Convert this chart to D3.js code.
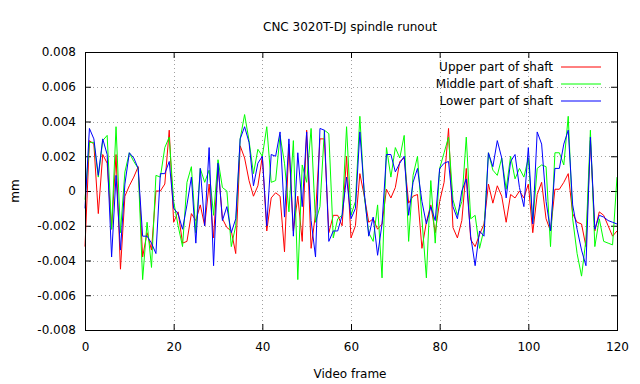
<!DOCTYPE html>
<html>
<head>
<meta charset="utf-8">
<script src="https://cdn.jsdelivr.net/npm/d3@7"></script>
<style>
  body { margin: 0; background: #fff; }
  svg { font-family: "DejaVu Sans", sans-serif; }
</style>
</head>
<body>
<script>
// frames 0..120, values in mm
var upper = [-0.0032, 0.0029, 0.0027, -0.0013, 0.0021, 0.0016, -0.0022, 0.0021, -0.0045, -0.0003,
  0.0003, 0.0008, 0.0014, -0.0038, -0.0024, -0.0034, 0.0000, 0.0000, 0.0004, 0.0035,
  -0.0018, -0.0012, -0.0030, -0.0029, -0.0013, -0.0017, -0.0008, -0.0020, 0.0004, -0.0027,
  0.0015, -0.0016, -0.0021, -0.0023, -0.0036, 0.0026, 0.0019, 0.0006, -0.0003, 0.0003,
  0.0020, -0.0023, -0.0004, -0.0001, -0.0003, -0.0035, 0.0027, -0.0023, -0.0003, -0.0029,
  0.0035, -0.0033, -0.0013, 0.0030, 0.0030, -0.0024, -0.0014, -0.0014, -0.0020, 0.0020,
  -0.0027, -0.0020, 0.0010, -0.0003, -0.0018, -0.0016, -0.0022, -0.0019, 0.0001, -0.0004,
  0.0002, 0.0017, 0.0019, -0.0007, -0.0003, -0.0002, -0.0033, -0.0018, -0.0008, -0.0024,
  -0.0006, 0.0005, 0.0036, -0.0021, -0.0027, -0.0017, 0.0013, -0.0028, -0.0032, -0.0025,
  -0.0019, 0.0004, -0.0007, 0.0003, -0.0003, -0.0018, -0.0002, -0.0004, 0.0000, -0.0004,
  0.0004, -0.0024, -0.0002, 0.0005, -0.0016, -0.0023, 0.0001, 0.0001, 0.0005, 0.0010,
  -0.0013, -0.0018, -0.0019, -0.0032, 0.0029, -0.0023, -0.0012, -0.0014, -0.0020, -0.0026,
  -0.0023];
var middle = [-0.0005, 0.0028, 0.0028, 0.0008, 0.0029, 0.0032, -0.0022, 0.0037, -0.0024, 0.0011,
  0.0022, 0.0017, 0.0013, -0.0051, -0.0018, -0.0044, 0.0009, 0.0008, 0.0025, 0.0031,
  -0.0006, -0.0020, -0.0032, 0.0005, 0.0014, -0.0024, 0.0013, 0.0005, 0.0012, -0.0014,
  0.0018, 0.0002, 0.0000, -0.0032, -0.0020, 0.0030, 0.0044, 0.0029, 0.0010, 0.0024,
  0.0020, 0.0037, 0.0005, 0.0006, 0.0032, 0.0016, -0.0012, 0.0029, -0.0051, 0.0015,
  0.0005, 0.0036, -0.0018, -0.0009, 0.0035, 0.0033, -0.0027, -0.0016, -0.0014, 0.0037,
  -0.0014, -0.0006, 0.0043, -0.0003, -0.0024, -0.0029, -0.0008, -0.0050, 0.0025, 0.0008,
  0.0025, 0.0019, 0.0032, -0.0029, 0.0009, 0.0020, -0.0016, -0.0050, 0.0006, -0.0030,
  0.0013, 0.0022, 0.0031, -0.0005, -0.0014, -0.0006, 0.0031, -0.0016, -0.0014, -0.0033,
  -0.0022, 0.0022, 0.0012, 0.0009, 0.0019, 0.0001, 0.0020, 0.0007, 0.0013, 0.0008,
  0.0019, -0.0018, 0.0013, 0.0015, 0.0014, -0.0032, 0.0022, 0.0022, 0.0015, 0.0043,
  -0.0016, -0.0036, -0.0049, -0.0028, 0.0035, -0.0032, -0.0016, -0.0029, -0.0030, -0.0031,
  0.0008];
var lower = [-0.0010, 0.0036, 0.0030, 0.0009, 0.0030, 0.0021, -0.0038, 0.0009, -0.0034, 0.0004,
  0.0022, 0.0019, 0.0013, -0.0026, -0.0026, -0.0030, -0.0036, 0.0010, 0.0010, 0.0017,
  -0.0010, -0.0013, -0.0022, -0.0008, 0.0008, -0.0030, 0.0013, -0.0020, 0.0025, -0.0043,
  0.0016, -0.0017, -0.0009, -0.0024, -0.0016, 0.0030, 0.0037, 0.0028, 0.0003, 0.0016,
  0.0020, -0.0020, 0.0021, 0.0020, 0.0034, -0.0015, 0.0030, -0.0026, 0.0022, -0.0009,
  0.0034, -0.0017, -0.0038, 0.0036, 0.0035, -0.0029, -0.0023, -0.0023, -0.0014, 0.0008,
  -0.0016, -0.0010, 0.0034, -0.0001, -0.0026, -0.0015, -0.0037, -0.0019, 0.0021, 0.0021,
  0.0011, 0.0016, 0.0020, -0.0014, 0.0005, 0.0013, -0.0006, -0.0019, -0.0009, -0.0017,
  0.0013, 0.0016, 0.0017, -0.0009, -0.0016, 0.0000, 0.0007, -0.0026, -0.0043, -0.0023,
  -0.0026, 0.0022, 0.0014, 0.0029, 0.0019, -0.0004, 0.0017, 0.0021, 0.0002, -0.0009,
  0.0025, -0.0019, 0.0034, 0.0027, -0.0006, -0.0023, 0.0013, 0.0013, 0.0027, 0.0035,
  -0.0008, -0.0022, -0.0034, -0.0043, 0.0031, -0.0022, -0.0014, -0.0015, -0.0017, -0.0018,
  -0.0019];

var seriesNames = ["Upper part of shaft", "Middle part of shaft", "Lower part of shaft"];
var seriesColors = ["#ff0000", "#00ff00", "#0000ff"];
var xTicks = [0, 20, 40, 60, 80, 100, 120];
var yTicks = [-0.008, -0.006, -0.004, -0.002, 0, 0.002, 0.004, 0.006, 0.008];

var W = 640, H = 384;
var margin = { top: 52, right: 23, bottom: 54, left: 85 };
var w = W - margin.left - margin.right,
    h = H - margin.top - margin.bottom;

var svg = d3.select("body").append("svg")
  .attr("width", W)
  .attr("height", H);

var x = d3.scaleLinear().domain([0, 120]).range([0, w]);
var y = d3.scaleLinear().domain([-0.008, 0.008]).range([h, 0]);

var g = svg.append("g")
  .attr("transform", "translate(" + margin.left + "," + margin.top + ")");

// dotted grid
g.selectAll(".gx").data(xTicks.slice(1, -1)).enter().append("line")
  .attr("x1", function (d) { return Math.round(x(d)) + 0.5; })
  .attr("x2", function (d) { return Math.round(x(d)) + 0.5; })
  .attr("y1", 0).attr("y2", h)
  .attr("stroke", "#a0a0a0").attr("stroke-dasharray", "1,3");
g.selectAll(".gy").data(yTicks.slice(1, -1)).enter().append("line")
  .attr("y1", function (d) { return Math.round(y(d)) + 0.5; })
  .attr("y2", function (d) { return Math.round(y(d)) + 0.5; })
  .attr("x1", 0).attr("x2", w)
  .attr("stroke", "#a0a0a0").attr("stroke-dasharray", "1,3");

// axes, ticks pointing inward, mirrored
var fmt = function (d) { return d === 0 ? "0" : d3.format(".3f")(d).replace("\u2212", "-"); };
var axLeft = g.append("g").call(d3.axisLeft(y).tickValues(yTicks).tickSize(-6).tickPadding(9).tickFormat(fmt));
var axRight = g.append("g").attr("transform", "translate(" + w + ",0)")
  .call(d3.axisRight(y).tickValues(yTicks).tickSize(-6).tickFormat(""));
var axBottom = g.append("g").attr("transform", "translate(0," + h + ")")
  .call(d3.axisBottom(x).tickValues(xTicks).tickSize(-6).tickPadding(12));
var axTop = g.append("g").call(d3.axisTop(x).tickValues(xTicks).tickSize(-6).tickFormat(""));

[axLeft, axRight, axBottom, axTop].forEach(function (a) {
  a.select(".domain").remove();
  a.selectAll("line").attr("stroke", "#000");
  a.selectAll("text").attr("font-size", 12).attr("fill", "#000")
    .attr("font-family", "DejaVu Sans, sans-serif");
});

// lines
var line = d3.line()
  .x(function (d, i) { return x(i); })
  .y(function (d) { return y(d); });

[upper, middle, lower].forEach(function (s, k) {
  g.append("path")
    .datum(s)
    .attr("fill", "none")
    .attr("stroke", seriesColors[k])
    .attr("stroke-width", 1)
    .attr("d", line);
});

// frame
g.append("rect")
  .attr("x", 0.5).attr("y", 0.5)
  .attr("width", w).attr("height", h)
  .attr("fill", "none").attr("stroke", "#000");

// legend
var legend = g.selectAll(".leg").data(seriesNames).enter().append("g")
  .attr("transform", function (d, i) { return "translate(0," + (15 + i * 17) + ")"; });
legend.append("text")
  .attr("x", 468).attr("dy", "0.35em")
  .attr("text-anchor", "end")
  .attr("font-size", 12)
  .text(function (d) { return d; });
legend.append("line")
  .attr("x1", 476).attr("x2", 516)
  .attr("stroke", function (d, i) { return seriesColors[i]; });

// titles
svg.append("text")
  .attr("x", 350).attr("y", 31)
  .attr("text-anchor", "middle")
  .attr("font-size", 12)
  .text("CNC 3020T-DJ spindle runout");
svg.append("text")
  .attr("x", 350).attr("y", 378)
  .attr("text-anchor", "middle")
  .attr("font-size", 12)
  .text("Video frame");
svg.append("text")
  .attr("transform", "translate(19," + (margin.top + h / 2) + ") rotate(-90)")
  .attr("text-anchor", "middle")
  .attr("font-size", 12)
  .text("mm");
</script>
</body>
</html>
